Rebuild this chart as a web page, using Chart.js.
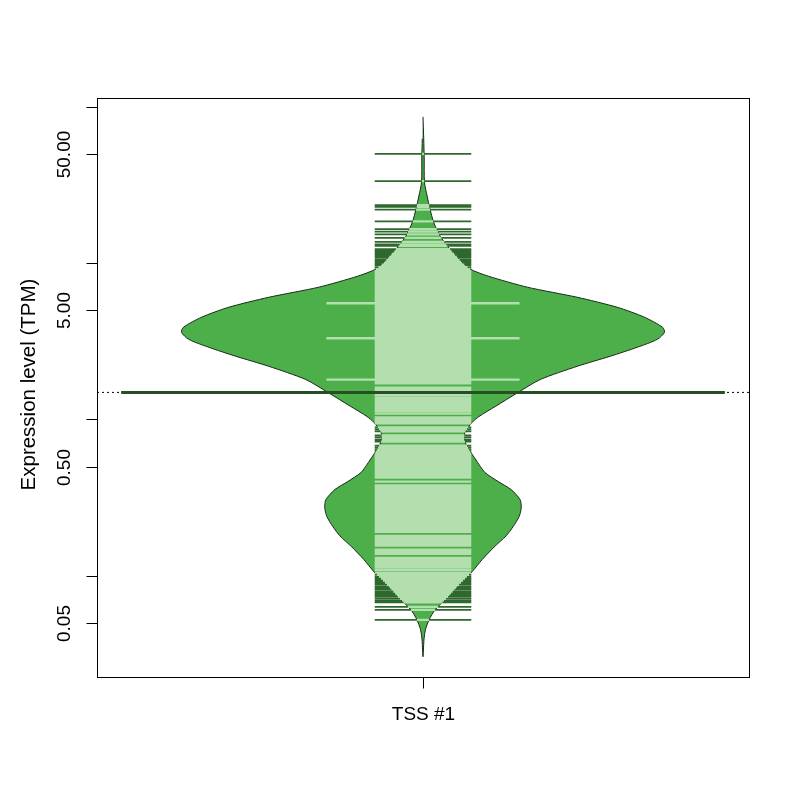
<!DOCTYPE html>
<html><head><meta charset="utf-8">
<script src="https://cdn.jsdelivr.net/npm/chart.js@4.4.1/dist/chart.umd.min.js"></script>
<style>html,body{margin:0;padding:0;background:#fff}#wrap{width:800px;height:800px}</style>
</head><body><div id="wrap"><canvas id="c" width="800" height="800"></canvas></div>
<script>
// ---- data ----
const categories = ['TSS #1'];
const yTitle = 'Expression level (TPM)';
const yTickValues = [0.05, 0.1, 0.5, 1, 5, 10, 50, 100];
const yTickLabels = ['0.05', '', '0.50', '', '5.00', '', '50.00', ''];

// bean outline: TPM value (top to bottom) and relative half-width (1 = widest)
const densityValues = [86.3, 62.4, 46.4, 33.0, 26.9, 22.2, 18.3, 14.9, 12.3, 10.1, 9.16, 8.26, 7.02, 6.05, 5.22, 4.51, 3.89, 3.61, 3.26, 2.90, 2.54, 2.19, 1.80, 1.49, 1.21, 1.045, 0.957, 0.826, 0.744, 0.642, 0.588, 0.515, 0.457, 0.401, 0.356, 0.307, 0.273, 0.239, 0.206, 0.180, 0.153, 0.127, 0.106, 0.0889, 0.0755, 0.0605, 0.0522, 0.0451, 0.0389, 0.0303];
const densityWidths = [0, 0.003, 0.005, 0.006, 0.017, 0.029, 0.044, 0.071, 0.112, 0.162, 0.195, 0.27, 0.432, 0.639, 0.805, 0.917, 0.992, 1.0, 0.971, 0.888, 0.776, 0.639, 0.485, 0.394, 0.299, 0.232, 0.203, 0.174, 0.170, 0.191, 0.207, 0.232, 0.257, 0.311, 0.365, 0.402, 0.407, 0.398, 0.373, 0.344, 0.295, 0.245, 0.203, 0.154, 0.112, 0.050, 0.025, 0.010, 0.004, 0];

// individual observations (bean lines); repeated values give longer lines
const observations = [
 50.0, 33.5, 23.5, 22.9, 22.0, 18.5, 16.5, 15.9, 15.3, 14.5, 13.7, 13.2, 12.9, 12.3, 12.0, 11.8, 11.5, 11.3, 11.0, 10.8, 10.5, 10.3, 10.1, 9.85,
 9.71, 9.43, 9.15, 8.89, 8.63, 8.38, 8.13, 7.90, 7.67, 7.44, 7.23, 7.02, 6.81, 6.62, 6.42, 6.24, 6.05, 5.88, 5.71, 5.54, 5.54, 5.38, 5.22, 5.07,
 4.92, 4.78, 4.64, 4.51, 4.38, 4.25, 4.13, 4.01, 3.89, 3.78, 3.67, 3.56, 3.46, 3.36, 3.31, 3.31, 3.26, 3.16, 3.07, 2.98, 2.89, 2.81, 2.73, 2.65,
 2.57, 2.50, 2.43, 2.35, 2.29, 2.22, 2.15, 2.09, 2.03, 1.97, 1.91, 1.86, 1.80, 1.80, 1.75, 1.70, 1.60, 1.56, 1.51, 1.47, 1.43, 1.38, 1.34, 1.31,
 1.27, 1.23, 1.19, 1.16, 1.13, 1.09, 1.03, 1.00, 0.971, 0.943, 0.889, 0.863, 0.838, 0.790, 0.767, 0.744, 0.723, 0.681, 0.661, 0.642, 0.624,
 0.605, 0.588, 0.571, 0.554, 0.538, 0.522, 0.507, 0.492, 0.478, 0.464, 0.451, 0.438, 0.425, 0.400, 0.378, 0.366, 0.356, 0.345, 0.335, 0.326,
 0.316, 0.307, 0.298, 0.289, 0.281, 0.273, 0.265, 0.257, 0.250, 0.242, 0.235, 0.229, 0.222, 0.215, 0.209, 0.203, 0.197, 0.191, 0.180, 0.175,
 0.170, 0.165, 0.160, 0.156, 0.147, 0.142, 0.138, 0.130, 0.127, 0.123, 0.119, 0.116, 0.113, 0.109,
 0.1045, 0.1015, 0.0985, 0.0957, 0.0929, 0.0902, 0.0876, 0.0850, 0.0832, 0.0814, 0.0790, 0.0767, 0.0750, 0.0733, 0.0712, 0.0691, 0.0676,
 0.0633, 0.0605, 0.0522
];
const beanAverage = 1.49;
const overallAverage = 1.49;

// ---- styling / geometry constants ----
const CENTER = 1, MAXHALF = 0.4, LINEHALF = 0.08, AVGHALF = 0.5;
const FONT_TICK = '19px "Liberation Sans", Arial, sans-serif';
const FONT_TITLE = '20.5px "Liberation Sans", Arial, sans-serif';
const COL_BEAN = 'rgb(77,175,74)';
const COL_BORDER = 'rgb(24,40,24)';
const COL_IN = 'rgb(178,223,173)';
const COL_OUT = 'rgb(46,104,44)';
const COL_AVG = 'rgb(38,80,36)';

// bean outline polygon
const beanPts = [];
for (let i = 0; i < densityValues.length; i++) beanPts.push({x: CENTER + MAXHALF * densityWidths[i], y: densityValues[i]});
for (let i = densityValues.length - 2; i >= 1; i--) beanPts.push({x: CENTER - MAXHALF * densityWidths[i], y: densityValues[i]});

function beanHalfAt(v) {
  const lv = Math.log10(v);
  for (let i = 0; i < densityValues.length - 1; i++) {
    const a = Math.log10(densityValues[i]), b = Math.log10(densityValues[i + 1]);
    if (lv <= a && lv >= b) {
      const t = (a - lv) / (a - b);
      return MAXHALF * (densityWidths[i] + t * (densityWidths[i + 1] - densityWidths[i]));
    }
  }
  return 0;
}

const counts = {};
observations.forEach(v => { counts[v] = (counts[v] || 0) + 1; });
const inPts = [], outPts = [];
const seen = {};
observations.forEach(v => {
  if (seen[v]) return; seen[v] = true;
  const half = LINEHALF * counts[v];
  const bh = beanHalfAt(v);
  const a = Math.min(half, bh);
  if (a > 0) inPts.push({x: CENTER - a, y: v}, {x: CENTER + a, y: v}, {x: CENTER, y: null});
  if (half > bh) {
    outPts.push({x: CENTER - half, y: v}, {x: CENTER - bh, y: v}, {x: CENTER, y: null});
    outPts.push({x: CENTER + bh, y: v}, {x: CENTER + half, y: v}, {x: CENTER, y: null});
  }
});

const common = {pointRadius: 0, pointHoverRadius: 0, spanGaps: false, borderCapStyle: 'butt'};

const axesPlugin = {
  id: 'rAxes',
  afterDraw(chart) {
    const ctx = chart.ctx, ca = chart.chartArea;
    const ys = chart.scales.y, xs = chart.scales.x;
    ctx.save();
    ctx.strokeStyle = '#000'; ctx.lineWidth = 1;
    ctx.strokeRect(ca.left + 0.5, ca.top + 0.5, ca.right - ca.left, ca.bottom - ca.top);
    ctx.fillStyle = '#000'; ctx.font = FONT_TICK;
    // y ticks
    yTickValues.forEach((v, i) => {
      const py = Math.round(ys.getPixelForValue(v)) + 0.5;
      ctx.beginPath(); ctx.moveTo(ca.left + 0.5 - 11, py); ctx.lineTo(ca.left + 0.5, py); ctx.stroke();
      if (yTickLabels[i]) {
        ctx.save(); ctx.translate(69.8, py); ctx.rotate(-Math.PI / 2);
        ctx.textAlign = 'center'; ctx.textBaseline = 'alphabetic';
        ctx.fillText(yTickLabels[i], 0, 0); ctx.restore();
      }
    });
    // x ticks
    categories.forEach((c, i) => {
      const px = Math.round(xs.getPixelForValue(CENTER + i)) + 0.5;
      ctx.beginPath(); ctx.moveTo(px, ca.bottom + 0.5); ctx.lineTo(px, ca.bottom + 11.5); ctx.stroke();
      ctx.textAlign = 'center'; ctx.textBaseline = 'alphabetic';
      ctx.fillText(c, px, 720);
    });
    // y title
    ctx.font = FONT_TITLE;
    ctx.save(); ctx.translate(35, (ca.top + ca.bottom) / 2 - 3); ctx.rotate(-Math.PI / 2);
    ctx.textAlign = 'center'; ctx.textBaseline = 'alphabetic';
    ctx.fillText(yTitle, 0, 0); ctx.restore();
    ctx.restore();
  }
};

new Chart(document.getElementById('c'), {
  type: 'line',
  data: {
    datasets: [
      Object.assign({label: 'overall average', data: [{x: 0.46, y: overallAverage}, {x: 1.54, y: overallAverage}],
        borderColor: '#000', borderWidth: 1, borderDash: [2, 3], fill: false, order: 5}, common),
      Object.assign({label: 'bean', data: beanPts, borderColor: COL_BORDER, borderWidth: 1, backgroundColor: COL_BEAN,
        fill: 'shape', tension: 0.25, order: 4}, common),
      Object.assign({label: 'inner lines', data: inPts, borderColor: COL_IN, borderWidth: 2.3, fill: false, order: 3}, common),
      Object.assign({label: 'outer lines', data: outPts, borderColor: COL_OUT, borderWidth: 1.8, fill: false, order: 2}, common),
      Object.assign({label: 'bean average', data: [{x: CENTER - AVGHALF, y: beanAverage}, {x: CENTER + AVGHALF, y: beanAverage}],
        borderColor: COL_AVG, borderWidth: 3, fill: false, order: 1}, common)
    ]
  },
  options: {
    responsive: false, animation: false,
    layout: {padding: {left: 97, top: 98, right: 51, bottom: 123}},
    plugins: {legend: {display: false}, tooltip: {enabled: false}},
    scales: {
      x: {type: 'linear', min: 0.46, max: 1.54, display: false},
      y: {type: 'logarithmic', min: 0.0225, max: 114, display: false}
    }
  },
  plugins: [axesPlugin]
});
</script></body></html>
